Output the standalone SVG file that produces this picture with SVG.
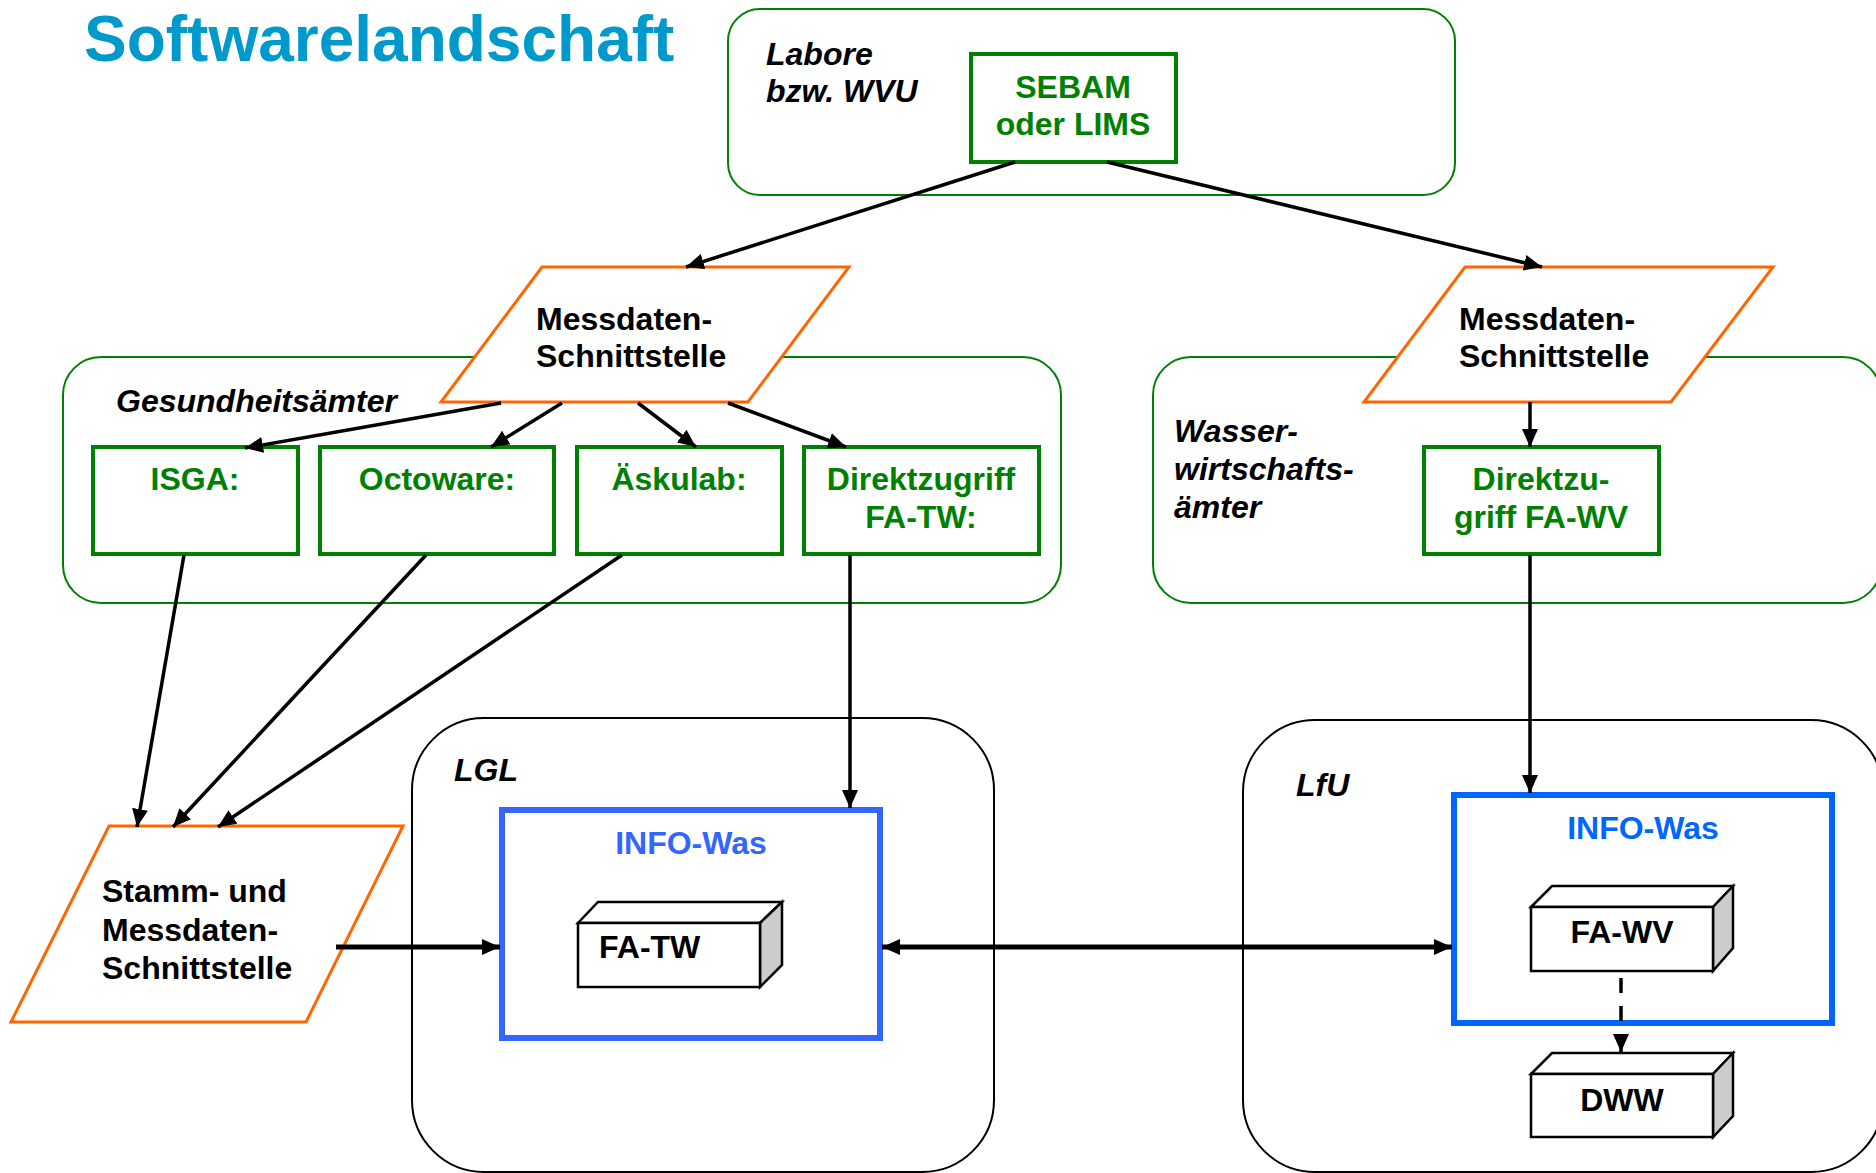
<svg xmlns="http://www.w3.org/2000/svg" width="1876" height="1173" viewBox="0 0 1876 1173">
<style>
text{font-family:"Liberation Sans",Arial,sans-serif;font-weight:bold;font-size:32px}
.title{font-size:64px;fill:#0099cc}
.it{font-style:italic;fill:#000}
.g{fill:#008000;text-anchor:middle}
.k{fill:#000}
.c{text-anchor:middle}
.grp{fill:none;stroke:#008000;stroke-width:2}
.blk{fill:none;stroke:#000;stroke-width:2}
.gbox{fill:#fff;stroke:#008000;stroke-width:4}
.para{fill:#fff;stroke:#ff6600;stroke-width:3}
.cf{fill:#fff;stroke:#000;stroke-width:2.5}
.cs{fill:#cccccc;stroke:#000;stroke-width:2.5}
.con{fill:none;stroke:#000;stroke-width:3.5}
.thick{stroke-width:5}
</style>
<defs>
<marker id="ah" markerUnits="userSpaceOnUse" markerWidth="20" markerHeight="16" refX="18" refY="8" orient="auto-start-reverse">
<path d="M0,0 L18,8 L0,16 z" fill="#000"/>
</marker>
</defs>
<rect width="1876" height="1173" fill="#fff"/>
<text class="title" x="84" y="61">Softwarelandschaft</text>

<g id="containers">
<g id="labore"><rect class="grp" x="728" y="9" width="727" height="186" rx="32"/>
<text class="it" x="766" y="65">Labore</text><text class="it" x="766" y="102">bzw. WVU</text></g>
<g id="gesundheitsaemter"><rect class="grp" x="63" y="357" width="998" height="246" rx="38"/>
<text class="it" x="116" y="412">Gesundheitsämter</text></g>
<g id="wwa"><rect class="grp" x="1153" y="357" width="728" height="246" rx="38"/>
<text class="it" x="1174" y="442">Wasser-</text><text class="it" x="1174" y="480">wirtschafts-</text><text class="it" x="1174" y="518">ämter</text></g>
<g id="lgl"><rect class="blk" x="412" y="718" width="582" height="454" rx="72"/>
<text class="it" x="454" y="781">LGL</text></g>
<g id="lfu"><rect class="blk" x="1243" y="720" width="640" height="452" rx="72"/>
<text class="it" x="1296" y="796">LfU</text></g>
</g>

<g id="sebam"><rect class="gbox" x="971" y="54" width="205" height="108"/>
<text class="g" x="1073" y="98">SEBAM</text><text class="g" x="1073" y="135">oder LIMS</text></g>

<g id="mess-left"><polygon class="para" points="542,267 849,267 748,402 441,402"/>
<text class="k" x="536" y="330">Messdaten-</text><text class="k" x="536" y="367">Schnittstelle</text></g>
<g id="mess-right"><polygon class="para" points="1465,267 1773,267 1671,402 1364,402"/>
<text class="k" x="1459" y="330">Messdaten-</text><text class="k" x="1459" y="367">Schnittstelle</text></g>

<g id="isga"><rect class="gbox" x="93" y="447" width="205" height="107"/><text class="g" x="195" y="490">ISGA:</text></g>
<g id="octoware"><rect class="gbox" x="320" y="447" width="234" height="107"/><text class="g" x="437" y="490">Octoware:</text></g>
<g id="askulab"><rect class="gbox" x="577" y="447" width="205" height="107"/><text class="g" x="679" y="490">Äskulab:</text></g>
<g id="direkt-tw"><rect class="gbox" x="804" y="447" width="235" height="107"/><text class="g" x="921" y="490">Direktzugriff</text><text class="g" x="921" y="528">FA-TW:</text></g>
<g id="direkt-wv"><rect class="gbox" x="1424" y="447" width="235" height="107"/><text class="g" x="1541" y="490">Direktzu-</text><text class="g" x="1541" y="528">griff FA-WV</text></g>

<g id="stamm"><polygon class="para" points="109,826 403,826 306,1022 11,1022"/>
<text class="k" x="102" y="902">Stamm- und</text><text class="k" x="102" y="941">Messdaten-</text><text class="k" x="102" y="979">Schnittstelle</text></g>

<g id="infowas-lgl"><rect x="502" y="810" width="378" height="228" fill="#fff" stroke="#3366ff" stroke-width="6"/>
<text class="c" x="691" y="854" fill="#3366ff">INFO-Was</text></g>
<g id="fa-tw"><polygon class="cf" points="578,923 598,902 782,902 760,923"/><polygon class="cs" points="760,923 782,902 782,965 760,987"/><rect class="cf" x="578" y="923" width="182" height="64"/>
<text class="k" x="599" y="958">FA-TW</text></g>

<g id="infowas-lfu"><rect x="1454" y="795" width="378" height="228" fill="#fff" stroke="#0066ff" stroke-width="6"/>
<text class="c" x="1643" y="839" fill="#0066ff">INFO-Was</text></g>
<g id="fa-wv"><polygon class="cf" points="1531,907 1552,886 1733,886 1713,907"/><polygon class="cs" points="1713,907 1733,886 1733,948 1713,971"/><rect class="cf" x="1531" y="907" width="182" height="64"/>
<text class="k c" x="1622" y="943">FA-WV</text></g>
<g id="dww"><polygon class="cf" points="1531,1074 1552,1053 1733,1053 1713,1074"/><polygon class="cs" points="1713,1074 1733,1053 1733,1116 1713,1137"/><rect class="cf" x="1531" y="1074" width="182" height="63"/>
<text class="k c" x="1622" y="1111">DWW</text></g>

<g id="connectors">
<line class="con" x1="1015" y1="162" x2="686" y2="267" marker-end="url(#ah)"/>
<line class="con" x1="1107" y1="162" x2="1542" y2="267" marker-end="url(#ah)"/>
<line class="con" x1="501" y1="403" x2="245" y2="448" marker-end="url(#ah)"/>
<line class="con" x1="562" y1="403" x2="491" y2="447" marker-end="url(#ah)"/>
<line class="con" x1="638" y1="403" x2="696" y2="447" marker-end="url(#ah)"/>
<line class="con" x1="728" y1="403" x2="846" y2="447" marker-end="url(#ah)"/>
<line class="con" x1="1530" y1="402" x2="1530" y2="447" marker-end="url(#ah)"/>
<line class="con" x1="184" y1="555" x2="137" y2="827" marker-end="url(#ah)"/>
<line class="con" x1="426" y1="555" x2="173" y2="827" marker-end="url(#ah)"/>
<line class="con" x1="622" y1="555" x2="218" y2="827" marker-end="url(#ah)"/>
<line class="con" x1="850" y1="555" x2="850" y2="808" marker-end="url(#ah)"/>
<line class="con" x1="1530" y1="555" x2="1530" y2="793" marker-end="url(#ah)"/>
<line class="con thick" x1="336" y1="947" x2="500" y2="947" marker-end="url(#ah)"/>
<line class="con thick" x1="882" y1="947" x2="1452" y2="947" marker-start="url(#ah)" marker-end="url(#ah)"/>
<line class="con" x1="1621" y1="978" x2="1621" y2="1036" stroke-dasharray="15,13"/>
<line class="con" x1="1621" y1="1034" x2="1621" y2="1052" marker-end="url(#ah)"/>
</g>
</svg>
